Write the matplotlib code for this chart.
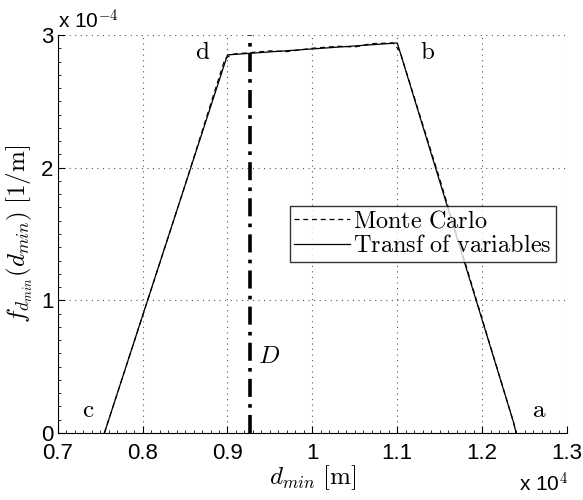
import matplotlib.pyplot as plt
import numpy as np
from matplotlib.ticker import MultipleLocator

plt.rcParams['mathtext.fontset'] = 'cm'
plt.rcParams['font.family'] = ['Liberation Sans', 'DejaVu Sans']

# d_min in units of 1e4 m, pdf in units of 1e-4 1/m
x_tv = [0.755, 0.900, 1.100, 1.237, 1.240]
y_tv = [0.0, 2.85, 2.94, 0.08, 0.0]

x_mc = [0.755, 0.800, 0.850, 0.897, 0.905, 0.950, 0.970, 1.000, 1.030,
        1.050, 1.070, 1.095, 1.103, 1.150, 1.200, 1.237, 1.240]
y_mc = [0.0, 0.884, 1.867, 2.82, 2.855, 2.88, 2.875, 2.90, 2.915,
        2.91, 2.935, 2.94, 2.88, 1.915, 0.86, 0.08, 0.0]

x_D = 0.9266

corner_names = ['c', 'd', 'b', 'a']
corner_x = [0.736, 0.871, 1.136, 1.267]
corner_y = [0.17, 2.87, 2.87, 0.17]

fig = plt.figure(figsize=(5.83, 5.0), dpi=100)
ax = fig.add_axes([0.099, 0.134, 0.8736, 0.796])

ax.plot(x_mc, y_mc, 'k', lw=0.9, linestyle=(0, (4, 3)), label=r'$\mathrm{Monte\ Carlo}$')
ax.plot(x_tv, y_tv, 'k-', lw=0.9, label=r'$\mathrm{Transf\ of\ variables}$')
ax.plot([x_D, x_D], [0, 3], color='k', lw=2.6, linestyle=(0, (5, 2, 1, 2)))

for name, xx, yy in zip(corner_names, corner_x, corner_y):
    ax.text(xx, yy, r'$\mathrm{%s}$' % name, fontsize=18, ha='center', va='center')
ax.text(x_D + 0.009, 0.58, r'$D$', fontsize=18, ha='left', va='center')

ax.set_xlim(0.7, 1.3)
ax.set_ylim(0, 3)
ax.set_xticks(np.arange(0.7, 1.31, 0.1))
ax.set_xticklabels(['0.7', '0.8', '0.9', '1', '1.1', '1.2', '1.3'])
ax.set_yticks([0, 1, 2, 3])
ax.set_yticklabels(['0', '1', '2', '3'])
ax.xaxis.set_minor_locator(MultipleLocator(0.01))
ax.yaxis.set_minor_locator(MultipleLocator(0.1))
ax.tick_params(which='both', direction='in', labelsize=16)
ax.tick_params(axis='x', pad=7)
ax.tick_params(axis='y', pad=3)
ax.tick_params(which='major', length=5)
ax.tick_params(which='minor', length=2.5)
ax.tick_params(top=False, right=False)
ax.spines['top'].set_visible(False)
ax.spines['right'].set_visible(False)
ax.grid(True, linestyle=(0, (1, 4)), color='#555555', lw=0.8)

ax.set_xlabel(r'$d_{min}\ [\mathrm{m}]$', fontsize=18, labelpad=0)
ax.set_ylabel(r'$f_{d_{min}}(d_{min})\ [1/\mathrm{m}]$', fontsize=18, labelpad=4)

fig.text(0.099, 0.942, r'x 10$^{-4}$', fontsize=15, ha='left', va='baseline')
fig.text(0.974, 0.016, r'x 10$^{4}$', fontsize=15, ha='right', va='baseline')

leg = ax.legend(loc='center', bbox_to_anchor=(0.717, 0.5), fontsize=17.5,
                frameon=True, fancybox=False, edgecolor='k', handlelength=2.3,
                handletextpad=0.1, borderpad=0.2, labelspacing=0.1, borderaxespad=0)
leg.get_frame().set_linewidth(1.0)

fig.savefig('out.png', dpi=100)
